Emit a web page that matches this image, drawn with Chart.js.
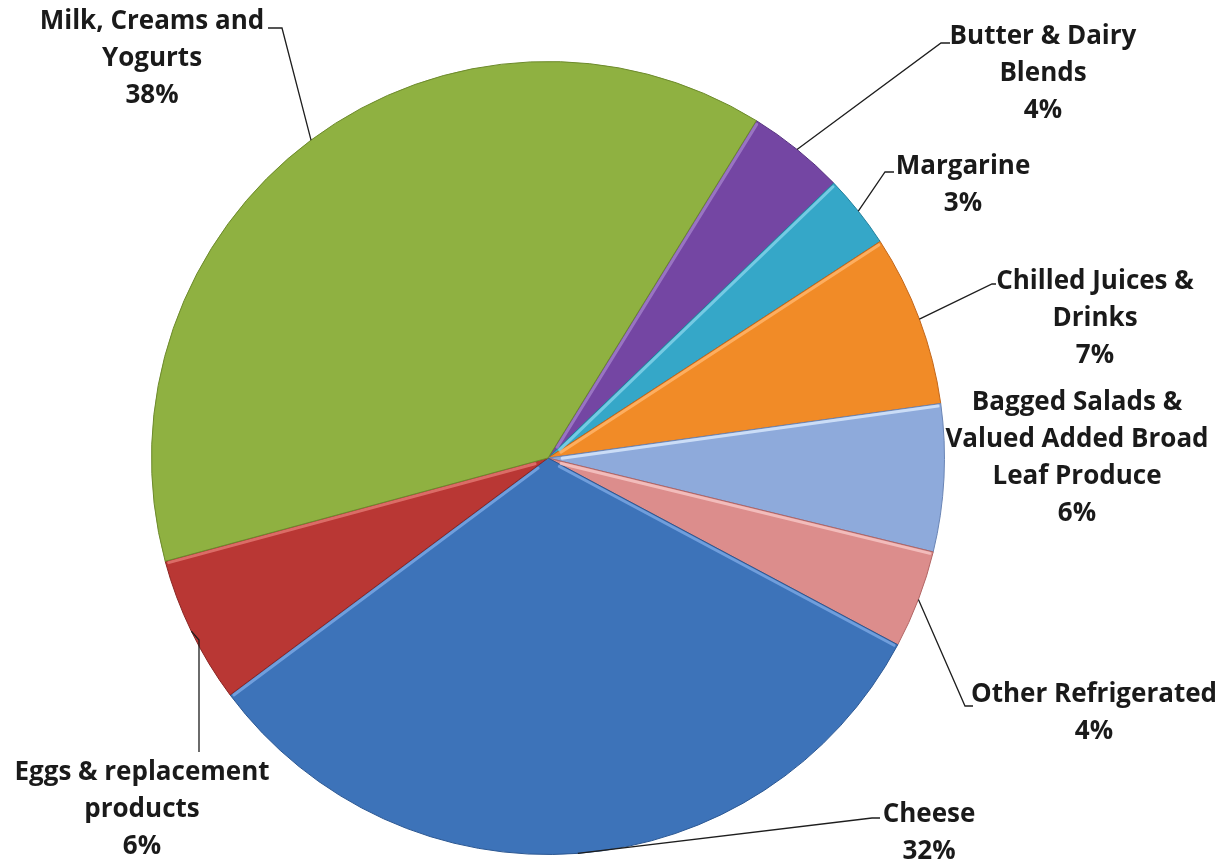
<!DOCTYPE html>
<html>
<head>
<meta charset="utf-8">
<script src="https://cdn.jsdelivr.net/npm/chart.js@4"></script>
<style>
  html, body { margin: 0; padding: 0; background: #ffffff; }
  #wrap { width: 1224px; height: 865px; position: relative; }
</style>
</head>
<body>
<div id="wrap"><canvas id="chartPie"></canvas></div>
<script>
  "use strict";

  // shares of the chilled category, clockwise from the top-right slice
  var categories = [
    "Butter & Dairy Blends",
    "Margarine",
    "Chilled Juices & Drinks",
    "Bagged Salads & Valued Added Broad Leaf Produce",
    "Other Refrigerated",
    "Cheese",
    "Eggs & replacement products",
    "Milk, Creams and Yogurts",
  ];
  var shares = [4, 3, 7, 6, 4, 32, 6, 38];

  // how each category name is broken over lines in its label
  var labelLines = [
    ["Butter & Dairy", "Blends"],
    ["Margarine"],
    ["Chilled Juices &", "Drinks"],
    ["Bagged Salads &", "Valued Added Broad", "Leaf Produce"],
    ["Other Refrigerated"],
    ["Cheese"],
    ["Eggs & replacement", "products"],
    ["Milk, Creams and", "Yogurts"],
  ];

  var sliceColors = [
    "#7446a3", "#35a7c8", "#f18b27", "#8eaadb",
    "#dc8d8c", "#3d73b9", "#b93734", "#8fb141",
  ];
  var edgeColors = [
    "#55307f", "#227f9b", "#c2661a", "#6a85b5",
    "#b26564", "#2b5792", "#8a2523", "#6d8a2c",
  ];
  var highlightColors = [
    "#a07cc8", "#7fd0e8", "#ffb46a", "#d6e6fb",
    "#f6c4c3", "#79a6e2", "#e07570", "#b9d878",
  ];

  // label block centre (x, first line y) and leader line bend points
  var labelLayout = [
    { x: 1043, y: 37, leader: [[941, 43], [950, 43]] },
    { x: 963, y: 167, leader: [[885, 172], [894, 172]] },
    { x: 1095, y: 282, leader: [[992, 284], [996, 284]] },
    { x: 1077, y: 403, leader: null },
    { x: 1094, y: 695, leader: [[965, 706], [973, 706]] },
    { x: 929, y: 815, leader: [[872, 818], [880, 818]] },
    { x: 142, y: 773, leader: [[199, 640], [199, 752]] },
    { x: 152, y: 22, leader: [[282, 28], [268, 28]] },
  ];

  var lineHeight = 37;

  function rimLine(ctx, p, a, side) {
    // side = 1 offsets toward growing angle, -1 the other way
    var nx = -Math.sin(a) * side * 2.2;
    var ny = Math.cos(a) * side * 2.2;
    ctx.beginPath();
    ctx.moveTo(p.x + Math.cos(a) * 14 + nx, p.y + Math.sin(a) * 14 + ny);
    ctx.lineTo(p.x + Math.cos(a) * (p.outerRadius - 3) + nx, p.y + Math.sin(a) * (p.outerRadius - 3) + ny);
    ctx.stroke();
  }

  // lit rim on the upward-facing edge of each slice, like a bevel
  var sliceBevel = {
    id: "sliceBevel",
    afterDatasetsDraw: function (chart) {
      var ctx = chart.ctx;
      var arcs = chart.getDatasetMeta(0).data;
      ctx.save();
      ctx.lineWidth = 3;
      ctx.lineCap = "round";
      ctx.globalAlpha = 0.85;
      arcs.forEach(function (arc, i) {
        var p = arc.getProps(["x", "y", "startAngle", "endAngle", "outerRadius"], true);
        ctx.strokeStyle = highlightColors[i];
        if (Math.cos(p.startAngle) > 0.05) rimLine(ctx, p, p.startAngle, 1);
        if (Math.cos(p.endAngle) < -0.05) rimLine(ctx, p, p.endAngle, -1);
      });
      ctx.restore();
    },
  };

  var sliceLabels = {
    id: "sliceLabels",
    afterDraw: function (chart) {
      var ctx = chart.ctx;
      var arcs = chart.getDatasetMeta(0).data;
      ctx.save();
      arcs.forEach(function (arc, i) {
        var lay = labelLayout[i];
        var p = arc.getProps(["x", "y", "startAngle", "endAngle", "outerRadius"], true);
        var mid = (p.startAngle + p.endAngle) / 2;
        if (lay.leader) {
          ctx.beginPath();
          ctx.strokeStyle = "#1e1e1e";
          ctx.lineWidth = 1.3;
          ctx.moveTo(p.x + Math.cos(mid) * p.outerRadius, p.y + Math.sin(mid) * p.outerRadius);
          lay.leader.forEach(function (pt) {
            ctx.lineTo(pt[0], pt[1]);
          });
          ctx.stroke();
        }
        var lines = labelLines[i].concat([shares[i] + "%"]);
        ctx.fillStyle = "#1a1a1a";
        ctx.font = "bold 26px 'Open Sans'";
        ctx.textAlign = "center";
        ctx.textBaseline = "middle";
        lines.forEach(function (t, k) {
          ctx.fillText(t, lay.x, lay.y + k * lineHeight);
        });
      });
      ctx.restore();
    },
  };

  var ctx = document.getElementById("chartPie");
  var chart = new Chart(ctx, {
    type: "pie",
    data: {
      labels: categories,
      datasets: [
        {
          data: shares,
          backgroundColor: sliceColors,
          borderColor: edgeColors,
          borderWidth: 1,
        },
      ],
    },
    options: {
      responsive: true,
      maintainAspectRatio: false,
      animation: false,
      rotation: 31.7,
      layout: {
        padding: { left: 151, right: 279, top: 60, bottom: 9 },
      },
      plugins: {
        legend: { display: false },
        tooltip: { enabled: false },
      },
    },
    plugins: [sliceBevel, sliceLabels],
  });
</script>
</body>
</html>
